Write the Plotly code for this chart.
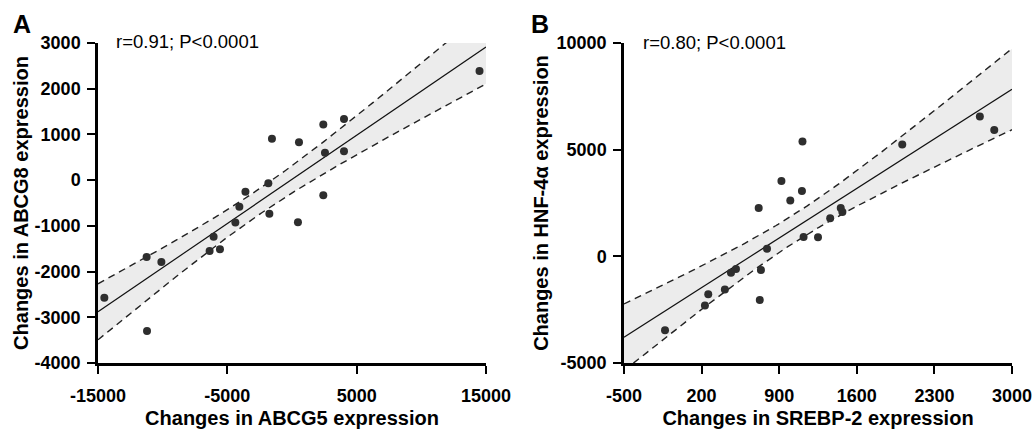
import numpy as np
import plotly.graph_objects as go

# ---- Data ----
abcg5 = [14500, 2420, 4020, -1550, 540, 2550, 4020, -1830, -3600, 2420, -4070,
         -1750, -11240, -10100, -14510, -11210, -6370, -6060, -5570, -4380, 460]
abcg8 = [2390, 1215, 1335, 905, 830, 600, 630, -70, -255, -330, -580,
         -735, -1680, -1790, -2570, -3300, -1550, -1240, -1510, -925, -920]

srebp2 = [2710, 2840, 2010, 1110, 920, 1105, 1000, 715, 1455, 1470, 1360,
          1120, 1250, 790, 510, 465, 735, 410, 260, 230, 725, -130]
hnf4a = [6550, 5925, 5240, 5380, 3535, 3065, 2620, 2270, 2270, 2080, 1780,
         910, 890, 350, -590, -765, -640, -1560, -1780, -2310, -2045, -3470]

stats_text = ["r=0.91; P<0.0001", "r=0.80; P<0.0001"]
panel_labels = ["A", "B"]
x_titles = ["Changes in ABCG5 expression", "Changes in SREBP-2 expression"]
y_titles = ["Changes in ABCG8 expression", "Changes in HNF-4\u03b1 expression"]
x_ticks = [[-15000, -5000, 5000, 15000], [-500, 200, 900, 1600, 2300, 3000]]
y_ticks = [[-4000, -3000, -2000, -1000, 0, 1000, 2000, 3000], [-5000, 0, 5000, 10000]]
x_ranges = [[-15000, 15000], [-500, 3000]]
y_ranges = [[-4000, 3000], [-5000, 10000]]

T_CRIT = {19: 2.093, 20: 2.086}  # two-sided 95% Student t


def fit_band(x, y, lo, hi):
    x = np.asarray(x, float)
    y = np.asarray(y, float)
    n = len(x)
    b, a = np.polyfit(x, y, 1)
    resid = y - (a + b * x)
    s = np.sqrt(np.sum(resid ** 2) / (n - 2))
    sxx = np.sum((x - x.mean()) ** 2)
    g = np.linspace(lo, hi, 200)
    yh = a + b * g
    half = T_CRIT[n - 2] * s * np.sqrt(1.0 / n + (g - x.mean()) ** 2 / sxx)
    return g, yh, yh - half, yh + half


FONT = "Liberation Sans, Arial, Helvetica, sans-serif"
fig = go.Figure()

datasets = [(abcg5, abcg8), (srebp2, hnf4a)]
for i, (xs, ys) in enumerate(datasets):
    xa = "x" if i == 0 else "x2"
    ya = "y" if i == 0 else "y2"
    g, yh, lo, hi = fit_band(xs, ys, *x_ranges[i])
    fig.add_trace(go.Scatter(x=g, y=lo, mode="lines", line=dict(width=0, color="rgba(0,0,0,0)"),
                             xaxis=xa, yaxis=ya, showlegend=False, hoverinfo="skip"))
    fig.add_trace(go.Scatter(x=g, y=hi, mode="lines", fill="tonexty", fillcolor="#ececec",
                             line=dict(width=0, color="rgba(0,0,0,0)"),
                             xaxis=xa, yaxis=ya, showlegend=False, hoverinfo="skip"))
    for band in (lo, hi):
        fig.add_trace(go.Scatter(x=g, y=band, mode="lines",
                                 line=dict(color="#222222", width=1.4, dash="7px,5px"),
                                 xaxis=xa, yaxis=ya, showlegend=False))
    fig.add_trace(go.Scatter(x=g, y=yh, mode="lines", line=dict(color="#111111", width=1.2),
                             xaxis=xa, yaxis=ya, showlegend=False))
    fig.add_trace(go.Scatter(x=xs, y=ys, mode="markers",
                             marker=dict(size=8, color="#2e2e2e"),
                             xaxis=xa, yaxis=ya, showlegend=False, cliponaxis=False))

W, H = 1033, 430
xdom = [[98 / W, 486 / W], [624 / W, 1012 / W]]
ydom = [1 - 363 / H, 1 - 43 / H]
ytitle_standoff = [1.5, 3.5]

common_axis = dict(showline=True, linecolor="black", linewidth=2.5, ticks="outside",
                   ticklen=8, tickwidth=2, tickcolor="black", showgrid=False, zeroline=False,
                   automargin=False,
                   tickfont=dict(family=FONT, size=18, color="black"))

layout = dict(width=W, height=H, plot_bgcolor="white", paper_bgcolor="white",
              margin=dict(l=0, r=0, t=0, b=0), showlegend=False,
              font=dict(family=FONT, color="black"))
for i in range(2):
    sx = "xaxis" if i == 0 else "xaxis2"
    sy = "yaxis" if i == 0 else "yaxis2"
    layout[sx] = dict(common_axis, domain=xdom[i], range=x_ranges[i], tickvals=x_ticks[i],
                      ticktext=["<b>%d</b>" % v for v in x_ticks[i]], ticklabelstandoff=7,
                      anchor="y" if i == 0 else "y2",
                      title=dict(text="<b>%s</b>" % x_titles[i], standoff=6,
                                 font=dict(family=FONT, size=20, color="black")))
    layout[sy] = dict(common_axis, domain=ydom, range=y_ranges[i], tickvals=y_ticks[i],
                      ticktext=["<b>%d</b>" % v for v in y_ticks[i]], ticklabelstandoff=3,
                      anchor="x" if i == 0 else "x2",
                      title=dict(text="<b>%s</b>" % y_titles[i], standoff=ytitle_standoff[i],
                                 font=dict(family=FONT, size=20, color="black")))

fig.update_layout(**layout)

ann_pos = [(114, 41), (641, 42)]
lab_pos = [(22, 24), (540, 24)]
for i in range(2):
    fig.add_annotation(text=stats_text[i], xref="paper", yref="paper",
                       x=ann_pos[i][0] / W, y=1 - ann_pos[i][1] / H, xanchor="left", yanchor="middle",
                       showarrow=False, font=dict(family=FONT, size=18.5, color="black"))
    fig.add_annotation(text="<b>%s</b>" % panel_labels[i], xref="paper", yref="paper",
                       x=lab_pos[i][0] / W, y=1 - lab_pos[i][1] / H, xanchor="center", yanchor="middle",
                       showarrow=False, font=dict(family=FONT, size=25, color="black"))

fig.write_html("out.html", config={"displayModeBar": False},
               post_script="document.body.style.margin='0';document.body.style.overflow='hidden';")
